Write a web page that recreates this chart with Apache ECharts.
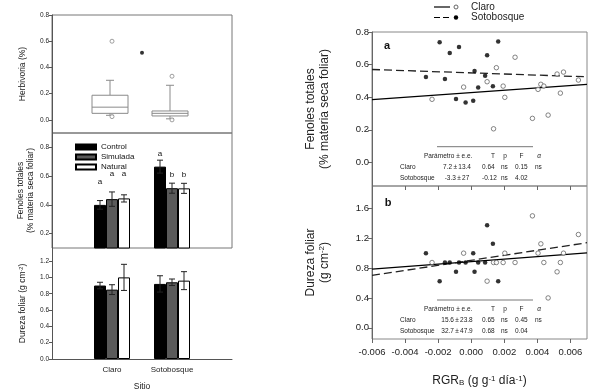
<!DOCTYPE html>
<html><head><meta charset="utf-8">
<script src="https://cdn.jsdelivr.net/npm/echarts@6/dist/echarts.min.js"></script>
<style>html,body{margin:0;padding:0;background:#fff}#c{width:589px;height:392px}</style>
</head><body><div id="c"></div>
<script>
// ---------- DATA ----------
const sites = ['Claro', 'Sotobosque'];
const treatments = ['Control', 'Simulada', 'Natural'];
// Herbivory boxplot per site: [low whisker, Q1, median, Q3, high whisker]
const herbClaro = [0.035, 0.05, 0.097, 0.188, 0.302];
const herbSoto = [0.008, 0.03, 0.05, 0.068, 0.264];
const herbOutClaro = [0.60, 0.025];
const herbOutSoto = [0.333, 0.0];
const herbExtreme = [0.513];            // filled point between the two sites
// Fenoles totales, [treatment][site]
const fenolesMean = [[0.40, 0.666], [0.44, 0.516], [0.445, 0.515]];
const fenolesSE = [[0.03, 0.045], [0.05, 0.035], [0.025, 0.035]];
const fenolesLetters = [['a', 'a'], ['a', 'b'], ['a', 'b']];
const fenolesLetterAt = [[0.562, 0.754], [0.613, 0.608], [0.613, 0.608]];
// Dureza foliar, [treatment][site]
const durezaMean = [[0.90, 0.92], [0.85, 0.94], [1.00, 0.96]];
const durezaSE = [[0.04, 0.10], [0.06, 0.04], [0.16, 0.11]];
// Scatter: RGR_B vs fenoles / dureza
const rgrClaro = [-0.00237, -0.00046, 0.00096, 0.00135, 0.00152, 0.00193, 0.00203, 0.00265, 0.00370, 0.00404, 0.00421, 0.00439, 0.00465, 0.00519, 0.00539, 0.00558, 0.00648];
const fenClaro = [0.387, 0.462, 0.495, 0.206, 0.581, 0.468, 0.399, 0.645, 0.270, 0.448, 0.479, 0.468, 0.290, 0.542, 0.425, 0.554, 0.505];
const durClaro = [0.875, 1.0, 0.625, 0.875, 0.875, 0.875, 1.0, 0.875, 1.5, 1.0, 1.125, 0.875, 0.4, 0.75, 0.875, 1.0, 1.25];
const rgrSoto = [-0.00274, -0.00191, -0.00159, -0.00130, -0.00092, -0.00074, -0.00034, 0.00012, 0.00020, 0.00042, 0.00084, 0.00096, 0.00131, 0.00163];
const fenSoto = [0.524, 0.737, 0.511, 0.671, 0.389, 0.708, 0.368, 0.378, 0.560, 0.460, 0.532, 0.657, 0.467, 0.742];
const durSoto = [1.0, 0.625, 0.875, 0.875, 0.75, 0.875, 0.875, 1.0, 0.75, 0.875, 0.875, 1.375, 1.125, 0.625];
// Regression lines (ends at x-axis limits)
const fitX = [-0.006, 0.007];
const fenFitClaro = [0.385, 0.478];
const fenFitSoto = [0.570, 0.525];
const durFitClaro = [0.787, 1.005];
const durFitSoto = [0.702, 1.14];
// Tick labels
const herbTicks = [0, 0.2, 0.4, 0.6, 0.8];
const fenTicksL = [0.2, 0.4, 0.6, 0.8];
const durTicksL = [0, 0.2, 0.4, 0.6, 0.8, 1.0, 1.2];
const fenTicksR = [0, 0.2, 0.4, 0.6, 0.8];
const durTicksR = [0, 0.4, 0.8, 1.2, 1.6];
const rgrTicks = [-0.006, -0.004, -0.002, 0, 0.002, 0.004, 0.006];
// Statistics tables
const tableHeader = ['Parámetro ± e.e.', 'T', 'p', 'F', 'α'];
const tableA = [['Claro', '7.2\u2009±\u200913.4', '0.64', 'ns', '0.15', 'ns'], ['Sotobosque', '-3.3\u2009±\u200927', '-0.12', 'ns', '4.02', '']];
const tableB = [['Claro', '15.6\u2009±\u200923.8', '0.65', 'ns', '0.45', 'ns'], ['Sotobosque', '32.7\u2009±\u200947.9', '0.68', 'ns', '0.04', '']];

// ---------- CHART ----------
const FONT = "'Liberation Sans', Arial, sans-serif";
const BAR_W = 12, BOX_W = 36;
const cats = ['', ...sites, ''];
const chart = echarts.init(document.getElementById('c'), null, {renderer: 'canvas'});

const leftY = (gi, min, max, ticks, name, gap) => ({
  gridIndex: gi, type: 'value', min, max,
  axisLine: {show: true, onZero: false, lineStyle: {color: '#555'}},
  axisTick: {show: true, length: 3, customValues: ticks, lineStyle: {color: '#555'}},
  axisLabel: {customValues: ticks, fontSize: 6.5, color: '#222', margin: 3, fontFamily: FONT, formatter: v => v.toFixed(1)},
  splitLine: {show: false},
  name, nameLocation: 'middle', nameGap: gap, nameRotate: 90,
  nameTextStyle: {fontSize: 8.5, fontFamily: FONT, color: '#222', lineHeight: 10,
    rich: {sup: {fontSize: 5.5, verticalAlign: 'top', fontFamily: FONT, color: '#222'}}}
});
const rightY = (gi, min, max, ticks, name) => ({
  gridIndex: gi, type: 'value', min, max,
  axisLine: {show: true, onZero: false, lineStyle: {color: '#666'}},
  axisTick: {show: true, length: 4, customValues: ticks, lineStyle: {color: '#666'}},
  axisLabel: {customValues: ticks, fontSize: 9.5, color: '#222', margin: 3, fontFamily: FONT, formatter: v => v.toFixed(1)},
  splitLine: {show: false},
  name, nameLocation: 'middle', nameGap: 40, nameRotate: 90,
  nameTextStyle: {fontSize: 12, fontFamily: FONT, color: '#222', lineHeight: 14,
    rich: {sup: {fontSize: 8, verticalAlign: 'top', fontFamily: FONT, color: '#222'}}}
});

function errSeries(t, means, ses, xi, yi, letters, letterAt) {
  return {
    type: 'custom', xAxisIndex: xi, yAxisIndex: yi, z: 5, silent: true,
    data: means[t].map((m, i) => [i + 1, m, ses[t][i]]),
    encode: {x: 0, y: 1},
    renderItem(params, api) {
      const x = api.value(0), m = api.value(1), se = api.value(2);
      const cx = api.coord([x, m])[0] + (t - 1) * BAR_W;
      const yT = api.coord([x, m + se])[1], yB = api.coord([x, m - se])[1];
      const st = {stroke: '#222', lineWidth: 1};
      const ch = [
        {type: 'line', shape: {x1: cx, y1: yT, x2: cx, y2: yB}, style: st},
        {type: 'line', shape: {x1: cx - 3, y1: yT, x2: cx + 3, y2: yT}, style: st},
        {type: 'line', shape: {x1: cx - 3, y1: yB, x2: cx + 3, y2: yB}, style: st}
      ];
      if (letters) {
        const ly = api.coord([x, letterAt[t][params.dataIndex]])[1];
        ch.push({type: 'text', style: {text: letters[t][params.dataIndex], x: cx, y: ly, align: 'center', verticalAlign: 'middle', fontSize: 8, fontFamily: FONT, fill: '#111'}});
      }
      return {type: 'group', children: ch};
    }
  };
}
const barColors = ['#000', '#5a5a5a', '#fff'];
function barSeries(t, means, xi, yi) {
  return {
    type: 'bar', name: treatments[t], xAxisIndex: xi, yAxisIndex: yi,
    data: ['-', ...means[t], '-'], barWidth: BAR_W, barGap: '0%',
    itemStyle: {color: barColors[t], borderColor: '#000', borderWidth: 1},
    silent: true, animation: false
  };
}

const boxData = [[1, ...herbClaro], [2, ...herbSoto]];
const boxSeries = {
  type: 'custom', xAxisIndex: 0, yAxisIndex: 0, silent: true,
  data: boxData, encode: {x: 0, y: [1, 2, 3, 4, 5]},
  renderItem(params, api) {
    const x = api.value(0);
    const y = v => api.coord([x, v])[1];
    const cx = api.coord([x, 0])[0] - 2;
    const lo = api.value(1), q1 = api.value(2), md = api.value(3), q3 = api.value(4), hi = api.value(5);
    const st = {stroke: '#8a8a8a', lineWidth: 1};
    const hw = BOX_W / 2;
    return {type: 'group', children: [
      {type: 'line', shape: {x1: cx, y1: y(q3), x2: cx, y2: y(hi)}, style: st},
      {type: 'line', shape: {x1: cx - 4, y1: y(hi), x2: cx + 4, y2: y(hi)}, style: st},
      {type: 'line', shape: {x1: cx, y1: y(q1), x2: cx, y2: y(lo)}, style: st},
      {type: 'line', shape: {x1: cx - 4, y1: y(lo), x2: cx + 4, y2: y(lo)}, style: st},
      {type: 'rect', shape: {x: cx - hw, y: y(q3), width: BOX_W, height: y(q1) - y(q3)}, style: {fill: '#fff', stroke: '#8a8a8a', lineWidth: 1}},
      {type: 'line', shape: {x1: cx - hw, y1: y(md), x2: cx + hw, y2: y(md)}, style: st}
    ]};
  }
};

function tableGraphics(rows, y0) {
  const g = [];
  const ts = (text, x, y, align, extra) => ({type: 'text', silent: true, style: Object.assign({text, x, y, align: align || 'left', verticalAlign: 'middle', fontSize: 6.5, fontFamily: FONT, fill: '#222'}, extra || {})});
  g.push({type: 'line', silent: true, shape: {x1: 437, y1: y0, x2: 533, y2: y0}, style: {stroke: '#777', lineWidth: 1}});
  const hy = y0 + 9.5;
  g.push(ts(tableHeader[0], 424, hy));
  g.push(ts(tableHeader[1], 493, hy, 'center'));
  g.push(ts(tableHeader[2], 505, hy, 'center'));
  g.push(ts(tableHeader[3], 521.5, hy, 'center'));
  g.push(ts(tableHeader[4], 539, hy, 'center', {fontStyle: 'italic'}));
  rows.forEach((r, i) => {
    const yy = hy + 10.8 * (i + 1);
    g.push(ts(r[0], 400, yy));
    g.push(ts(r[1], 457, yy, 'center'));
    g.push(ts(r[2], 482, yy));
    g.push(ts(r[3], 501, yy));
    g.push(ts(r[4], 515, yy));
    g.push(ts(r[5], 535, yy));
  });
  return g;
}

const sc = (xs, ys) => xs.map((x, i) => [x, ys[i]]);
const fit = ys => fitX.map((x, i) => [x, ys[i]]);
const open = {type: 'scatter', symbol: 'circle', symbolSize: 4.5, itemStyle: {color: '#fff', borderColor: '#555', borderWidth: 0.9}, silent: true};
const filled = {type: 'scatter', symbol: 'circle', symbolSize: 4.5, itemStyle: {color: '#000'}, silent: true};
const solidL = {type: 'line', showSymbol: false, symbol: 'none', lineStyle: {color: '#000', width: 1.3}, silent: true, z: 1};
const dashL = {type: 'line', showSymbol: false, symbol: 'none', lineStyle: {color: '#222', width: 1.3, type: [8, 4]}, silent: true, z: 1};

const rgrName = 'RGR{sub|B} (g g{sup|-1} día{sup|-1})';

const option = {
  animation: false,
  backgroundColor: '#fff',
  textStyle: {fontFamily: FONT},
  grid: [
    {left: 52, top: 15, width: 180, height: 118, show: true, borderColor: '#777', borderWidth: 1},
    {left: 52, top: 133, width: 180, height: 115, show: true, borderColor: '#777', borderWidth: 1},
    {left: 52, top: 248, width: 180, height: 116},
    {left: 372, top: 32, width: 215, height: 154, show: true, borderColor: '#888', borderWidth: 1},
    {left: 372, top: 186, width: 215, height: 153, show: true, borderColor: '#888', borderWidth: 1}
  ],
  legend: {
    data: treatments, orient: 'vertical', left: 70, top: 138, itemWidth: 20, itemHeight: 5, itemGap: 2,
    icon: 'rect', selectedMode: false,
    textStyle: {fontSize: 8, fontFamily: FONT, color: '#111'}
  },
  xAxis: [
    {gridIndex: 0, type: 'category', data: cats, boundaryGap: false, axisLine: {show: false, onZero: false}, axisTick: {show: false}, axisLabel: {show: false}},
    {gridIndex: 1, type: 'category', data: cats, boundaryGap: false, axisLine: {show: false, onZero: false}, axisTick: {show: false}, axisLabel: {show: false}},
    {gridIndex: 2, type: 'category', data: cats, boundaryGap: false, axisLine: {show: true, onZero: false, lineStyle: {color: '#555'}}, axisTick: {show: false},
      axisLabel: {interval: 0, fontSize: 8, color: '#222', margin: 7, fontFamily: FONT},
      name: 'Sitio', nameLocation: 'middle', nameGap: 23, nameTextStyle: {fontSize: 8.5, color: '#222', fontFamily: FONT}},
    {gridIndex: 0, type: 'value', min: 0, max: cats.length - 1, show: false},
    {gridIndex: 3, type: 'value', min: fitX[0], max: fitX[1], axisLine: {show: false, onZero: false},
      axisTick: {show: true, length: 4, customValues: rgrTicks, lineStyle: {color: '#666'}}, axisLabel: {show: false}, splitLine: {show: false}},
    {gridIndex: 4, type: 'value', min: fitX[0], max: fitX[1], axisLine: {show: false, onZero: false},
      axisTick: {show: true, length: 4, customValues: rgrTicks, lineStyle: {color: '#666'}},
      axisLabel: {customValues: rgrTicks, fontSize: 9.5, color: '#222', margin: 8, fontFamily: FONT, formatter: v => v.toFixed(3)},
      splitLine: {show: false},
      name: rgrName, nameLocation: 'middle', nameGap: 36,
      nameTextStyle: {fontSize: 12, color: '#222', fontFamily: FONT,
        rich: {sub: {fontSize: 8, verticalAlign: 'bottom', fontFamily: FONT, color: '#222'}, sup: {fontSize: 8, verticalAlign: 'top', fontFamily: FONT, color: '#222'}}}}
  ],
  yAxis: [
    leftY(0, -0.1, 0.8, herbTicks, 'Herbivoria (%)', 24),
    leftY(1, 0.1, 0.9, fenTicksL, 'Fenoles totales\n(% materia seca foliar)', 12),
    leftY(2, 0, 1.36, durTicksL, 'Dureza foliar (g cm{sup|-2})', 24),
    rightY(3, -0.145, 0.8, fenTicksR, 'Fenoles totales\n(% materia seca foliar)'),
    rightY(4, -0.15, 1.9, durTicksR, 'Dureza foliar\n(g cm{sup|-2})')
  ],
  series: [
    boxSeries,
    Object.assign({}, open, {xAxisIndex: 0, yAxisIndex: 0, symbolSize: 4, itemStyle: {color: '#fff', borderColor: '#888', borderWidth: 1},
      data: [...herbOutClaro.map(v => [1, v]), ...herbOutSoto.map(v => [2, v])]}),
    Object.assign({}, filled, {xAxisIndex: 3, yAxisIndex: 0, symbolSize: 4, data: herbExtreme.map(v => [1.5, v])}),
    barSeries(0, fenolesMean, 1, 1), barSeries(1, fenolesMean, 1, 1), barSeries(2, fenolesMean, 1, 1),
    errSeries(0, fenolesMean, fenolesSE, 1, 1, fenolesLetters, fenolesLetterAt),
    errSeries(1, fenolesMean, fenolesSE, 1, 1, fenolesLetters, fenolesLetterAt),
    errSeries(2, fenolesMean, fenolesSE, 1, 1, fenolesLetters, fenolesLetterAt),
    barSeries(0, durezaMean, 2, 2), barSeries(1, durezaMean, 2, 2), barSeries(2, durezaMean, 2, 2),
    errSeries(0, durezaMean, durezaSE, 2, 2),
    errSeries(1, durezaMean, durezaSE, 2, 2),
    errSeries(2, durezaMean, durezaSE, 2, 2),
    Object.assign({}, solidL, {name: 'Claro', xAxisIndex: 4, yAxisIndex: 3, data: fit(fenFitClaro)}),
    Object.assign({}, dashL, {name: 'Sotobosque', xAxisIndex: 4, yAxisIndex: 3, data: fit(fenFitSoto)}),
    Object.assign({}, open, {name: 'Claro', xAxisIndex: 4, yAxisIndex: 3, data: sc(rgrClaro, fenClaro)}),
    Object.assign({}, filled, {name: 'Sotobosque', xAxisIndex: 4, yAxisIndex: 3, data: sc(rgrSoto, fenSoto)}),
    Object.assign({}, solidL, {name: 'Claro', xAxisIndex: 5, yAxisIndex: 4, data: fit(durFitClaro)}),
    Object.assign({}, dashL, {name: 'Sotobosque', xAxisIndex: 5, yAxisIndex: 4, data: fit(durFitSoto)}),
    Object.assign({}, open, {name: 'Claro', xAxisIndex: 5, yAxisIndex: 4, data: sc(rgrClaro, durClaro)}),
    Object.assign({}, filled, {name: 'Sotobosque', xAxisIndex: 5, yAxisIndex: 4, data: sc(rgrSoto, durSoto)})
  ],
  graphic: [
    // right legend
    {type: 'line', silent: true, shape: {x1: 434, y1: 7, x2: 450, y2: 7}, style: {stroke: '#000', lineWidth: 1.2}},
    {type: 'circle', silent: true, shape: {cx: 456, cy: 7, r: 2}, style: {fill: '#fff', stroke: '#555', lineWidth: 0.9}},
    {type: 'text', silent: true, style: {text: 'Claro', x: 471, y: 7, verticalAlign: 'middle', fontSize: 10, fontFamily: FONT, fill: '#222'}},
    {type: 'line', silent: true, shape: {x1: 434, y1: 17.5, x2: 450, y2: 17.5}, style: {stroke: '#000', lineWidth: 1.2, lineDash: [6, 3]}},
    {type: 'circle', silent: true, shape: {cx: 456, cy: 17.5, r: 2.2}, style: {fill: '#000'}},
    {type: 'text', silent: true, style: {text: 'Sotobosque', x: 471, y: 17.5, verticalAlign: 'middle', fontSize: 10, fontFamily: FONT, fill: '#222'}},
    // panel letters
    {type: 'text', silent: true, style: {text: 'a', x: 387, y: 46, align: 'center', verticalAlign: 'middle', fontSize: 11, fontWeight: 'bold', fontFamily: FONT, fill: '#111'}},
    {type: 'text', silent: true, style: {text: 'b', x: 388, y: 203, align: 'center', verticalAlign: 'middle', fontSize: 11, fontWeight: 'bold', fontFamily: FONT, fill: '#111'}},
    ...tableGraphics(tableA, 146.7),
    ...tableGraphics(tableB, 300)
  ]
};
chart.setOption(option);
</script>
</body></html>
